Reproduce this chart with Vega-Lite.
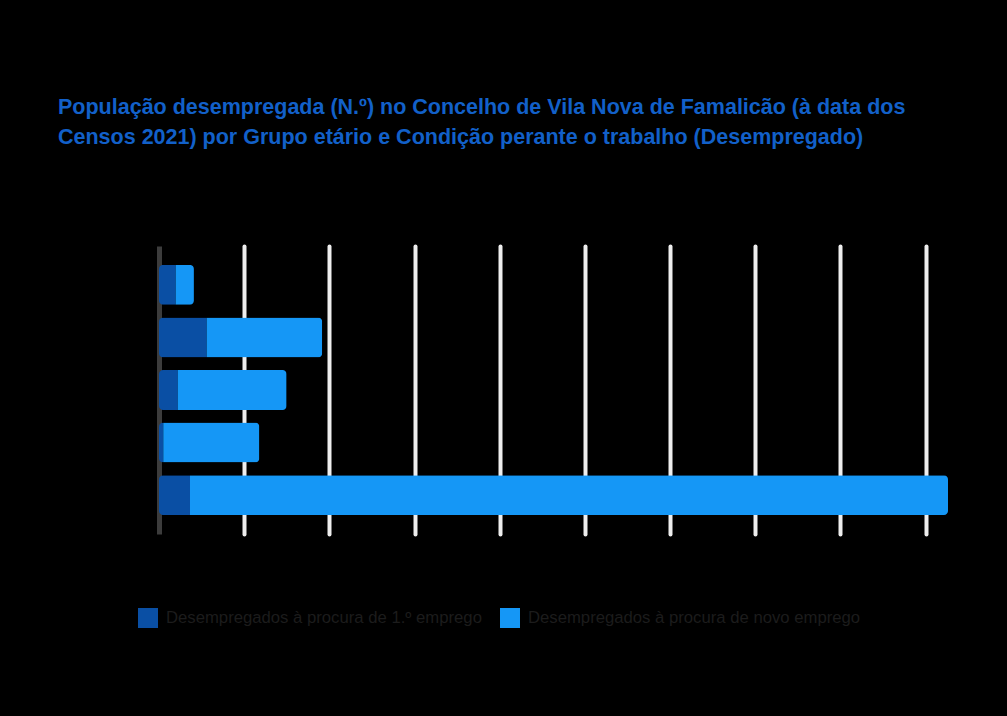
{
  "$schema": "https://vega.github.io/schema/vega-lite/v6.json",
  "autosize": {"type": "none"},
  "width": 789,
  "height": 288,
  "padding": {"left": 159, "top": 246, "right": 59, "bottom": 182},
  "background": "black",
  "config": {"view": {"stroke": null}, "font": "Liberation Sans"},
  "title": {
    "text": ["População desempregada (N.º) no Concelho de Vila Nova de Famalicão (à data dos", "Censos 2021) por Grupo etário e Condição perante o trabalho (Desempregado)"],
    "anchor": "start",
    "frame": "group",
    "dx": -101,
    "offset": 98,
    "fontSize": 21.5,
    "lineHeight": 30,
    "fontWeight": "bold",
    "color": "#1260c9"
  },
  "data": {
    "values": [
      {"grupo": "15 - 24 anos", "condicao": "Desempregados à procura de 1.º emprego", "valor": 98},
      {"grupo": "15 - 24 anos", "condicao": "Desempregados à procura de novo emprego", "valor": 107},
      {"grupo": "25 - 34 anos", "condicao": "Desempregados à procura de 1.º emprego", "valor": 280},
      {"grupo": "25 - 34 anos", "condicao": "Desempregados à procura de novo emprego", "valor": 678},
      {"grupo": "35 - 44 anos", "condicao": "Desempregados à procura de 1.º emprego", "valor": 110},
      {"grupo": "35 - 44 anos", "condicao": "Desempregados à procura de novo emprego", "valor": 639},
      {"grupo": "45 - 54 anos", "condicao": "Desempregados à procura de 1.º emprego", "valor": 25},
      {"grupo": "45 - 54 anos", "condicao": "Desempregados à procura de novo emprego", "valor": 564},
      {"grupo": "55 ou mais anos", "condicao": "Desempregados à procura de 1.º emprego", "valor": 182},
      {"grupo": "55 ou mais anos", "condicao": "Desempregados à procura de novo emprego", "valor": 4450}
    ]
  },
  "mark": {"type": "bar", "cornerRadius": 4},
  "encoding": {
    "y": {
      "field": "grupo",
      "type": "nominal",
      "sort": null,
      "title": null,
      "scale": {"paddingInner": 0.24, "paddingOuter": 0.36},
      "axis": {"domainColor": "#3c3c3c", "domainWidth": 5, "ticks": false, "labelColor": "black", "labelFontSize": 14, "labelPadding": 10}
    },
    "x": {
      "field": "valor",
      "type": "quantitative",
      "stack": "zero",
      "title": null,
      "scale": {"domain": [0, 4632], "nice": false},
      "axis": {
        "values": [500, 1000, 1500, 2000, 2500, 3000, 3500, 4000, 4500],
        "grid": true,
        "gridColor": "#eeeeee",
        "gridWidth": 4,
        "gridCap": "round",
        "domain": false,
        "ticks": false,
        "labelColor": "black",
        "labelFontSize": 14
      }
    },
    "color": {
      "field": "condicao",
      "type": "nominal",
      "title": null,
      "scale": {
        "domain": ["Desempregados à procura de 1.º emprego", "Desempregados à procura de novo emprego"],
        "range": ["#0a4fa4", "#1597f6"]
      },
      "legend": {
        "orient": "none",
        "legendX": -21,
        "legendY": 362,
        "direction": "horizontal",
        "columns": 2,
        "columnPadding": 18,
        "symbolType": "square",
        "symbolSize": 400,
        "symbolStrokeWidth": 0,
        "labelOffset": 8,
        "labelFontSize": 16.7,
        "labelColor": "#1c1c1c",
        "labelLimit": 400
      }
    }
  }
}
